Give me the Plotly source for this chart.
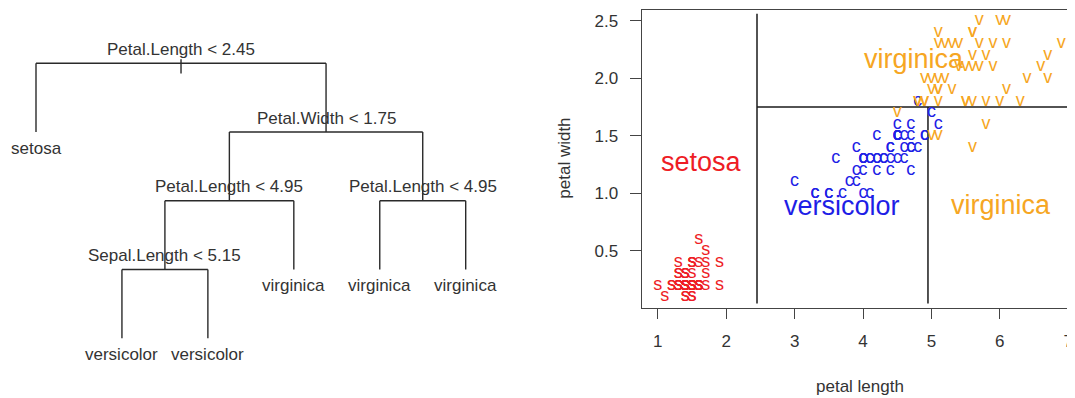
import plotly.graph_objects as go

# The page body adds an 8px margin, so the figure fills the rest of the window.
OFF = 8
W, H = 1075 - OFF, 398 - OFF


def fx(px):  # reference pixel x -> paper x
    return (px - OFF) / W


def fy(py):  # reference pixel y -> paper y
    return 1 - (py - OFF) / H


# ---------------- data: iris petal measurements ----------------
setosa_petal_length = [1.4, 1.4, 1.3, 1.5, 1.4, 1.7, 1.4, 1.5, 1.4, 1.5,
                       1.5, 1.6, 1.4, 1.1, 1.2, 1.5, 1.3, 1.4, 1.7, 1.5,
                       1.7, 1.5, 1.0, 1.7, 1.9, 1.6, 1.6, 1.5, 1.4, 1.6,
                       1.6, 1.5, 1.5, 1.4, 1.5, 1.2, 1.3, 1.4, 1.3, 1.5,
                       1.3, 1.3, 1.3, 1.6, 1.9, 1.4, 1.6, 1.4, 1.5, 1.4]
setosa_petal_width = [0.2, 0.2, 0.2, 0.2, 0.2, 0.4, 0.3, 0.2, 0.2, 0.1,
                      0.2, 0.2, 0.1, 0.1, 0.2, 0.4, 0.4, 0.3, 0.3, 0.3,
                      0.2, 0.4, 0.2, 0.5, 0.2, 0.2, 0.4, 0.2, 0.2, 0.2,
                      0.2, 0.4, 0.1, 0.2, 0.2, 0.2, 0.2, 0.1, 0.2, 0.2,
                      0.3, 0.3, 0.2, 0.6, 0.4, 0.3, 0.2, 0.2, 0.2, 0.2]
versicolor_petal_length = [4.7, 4.5, 4.9, 4.0, 4.6, 4.5, 4.7, 3.3, 4.6, 3.9,
                           3.5, 4.2, 4.0, 4.7, 3.6, 4.4, 4.5, 4.1, 4.5, 3.9,
                           4.8, 4.0, 4.9, 4.7, 4.3, 4.4, 4.8, 5.0, 4.5, 3.5,
                           3.8, 3.7, 3.9, 5.1, 4.5, 4.5, 4.7, 4.4, 4.1, 4.0,
                           4.4, 4.6, 4.0, 3.3, 4.2, 4.2, 4.2, 4.3, 3.0, 4.1]
versicolor_petal_width = [1.4, 1.5, 1.5, 1.3, 1.5, 1.3, 1.6, 1.0, 1.3, 1.4,
                          1.0, 1.5, 1.0, 1.4, 1.3, 1.4, 1.5, 1.0, 1.5, 1.1,
                          1.8, 1.3, 1.5, 1.2, 1.3, 1.4, 1.4, 1.7, 1.5, 1.0,
                          1.1, 1.0, 1.2, 1.6, 1.5, 1.6, 1.5, 1.3, 1.3, 1.3,
                          1.2, 1.4, 1.2, 1.0, 1.3, 1.2, 1.3, 1.3, 1.1, 1.3]
virginica_petal_length = [6.0, 5.1, 5.9, 5.6, 5.8, 6.6, 4.5, 6.3, 5.8, 6.1,
                          5.1, 5.3, 5.5, 5.0, 5.1, 5.3, 5.5, 6.7, 6.9, 5.0,
                          5.7, 4.9, 6.7, 4.9, 5.7, 6.0, 4.8, 4.9, 5.6, 5.8,
                          6.1, 6.4, 5.6, 5.1, 5.6, 6.1, 5.6, 5.5, 4.8, 5.4,
                          5.6, 5.1, 5.1, 5.9, 5.7, 5.2, 5.0, 5.2, 5.4, 5.1]
virginica_petal_width = [2.5, 1.9, 2.1, 1.8, 2.2, 2.1, 1.7, 1.8, 1.8, 2.5,
                         2.0, 1.9, 2.1, 2.0, 2.4, 2.3, 1.8, 2.2, 2.3, 1.5,
                         2.3, 2.0, 2.0, 1.8, 2.1, 1.8, 1.8, 1.8, 2.1, 1.6,
                         1.9, 2.0, 2.2, 1.5, 1.4, 2.3, 2.4, 1.8, 1.8, 2.1,
                         2.4, 2.3, 1.9, 2.3, 2.5, 2.3, 1.9, 2.0, 2.3, 1.8]

species_names = ["setosa", "versicolor", "virginica"]
species_symbols = ["s", "c", "v"]
species_colors = ["#EE1C25", "#1E1EE6", "#F6A623"]

# tree (R node numbering: children of n are 2n and 2n+1)
split_labels = {1: "Petal.Length < 2.45", 3: "Petal.Width < 1.75",
                6: "Petal.Length < 4.95", 7: "Petal.Length < 4.95",
                12: "Sepal.Length < 5.15"}
leaf_labels = {2: "setosa", 24: "versicolor", 25: "versicolor",
               13: "virginica", 14: "virginica", 15: "virginica"}
split_var_petal_length = [2.45, 4.95]
split_var_petal_width = [1.75]

# region label positions (data coords) on the partition plot
region_labels = ["setosa", "versicolor", "virginica", "virginica"]
region_x = [1.64, 3.70, 6.02, 4.74]
region_y = [1.27, 0.885, 0.895, 2.17]
region_colors = [species_colors[0], species_colors[1], species_colors[2], species_colors[2]]

x_ticks = [1, 2, 3, 4, 5, 6, 7]
y_ticks = [0.5, 1.0, 1.5, 2.0, 2.5]

FONT = "Liberation Sans, Arial, Helvetica, sans-serif"
TREE_LINE = "#2a2a2a"
TREE_TEXT = "#333333"
AX_COLOR = "#444444"

fig = go.Figure()

# ---------------- tree layout ----------------
xpos, depth = {}, {}
counter = [0]


def layout(n, d):
    depth[n] = d
    if n in leaf_labels:
        counter[0] += 1
        xpos[n] = counter[0]
    else:
        layout(2 * n, d + 1)
        layout(2 * n + 1, d + 1)
        xpos[n] = (xpos[2 * n] + xpos[2 * n + 1]) / 2


layout(1, 0)

lx, ly = [], []
for n in sorted(split_labels):
    l, r = 2 * n, 2 * n + 1
    lx += [xpos[l], xpos[r], None]
    ly += [depth[n], depth[n], None]
    for c in (l, r):
        lx += [xpos[c], xpos[c], None]
        ly += [depth[n], depth[c], None]
# root stub
lx += [xpos[1], xpos[1], None]
ly += [depth[1] - 0.06, depth[1] + 0.15, None]

fig.add_trace(go.Scatter(x=lx, y=ly, mode="lines", xaxis="x", yaxis="y",
                         line=dict(color=TREE_LINE, width=1.4),
                         hoverinfo="skip", showlegend=False))

annotations = []
for n, txt in split_labels.items():
    annotations.append(dict(x=xpos[n], y=depth[n], xref="x", yref="y", text=txt,
                            showarrow=False, yshift=14, xanchor="center", yanchor="middle",
                            font=dict(family=FONT, size=17, color=TREE_TEXT)))
for n, txt in leaf_labels.items():
    annotations.append(dict(x=xpos[n], y=depth[n], xref="x", yref="y", text=txt,
                            showarrow=False, yshift=-16, xanchor="center", yanchor="middle",
                            font=dict(family=FONT, size=17, color=TREE_TEXT)))

# tree axis ranges from reference pixel anchors
n_leaves = counter[0]
leaf_px0, leaf_px1 = 36.0, 465.7          # first / last leaf x (ref px)
depth_px0, depth_step = 63.3, 68.75       # root y and per-level step (ref px)
tree_dom = [0, 0.5]
ppu = (leaf_px1 - leaf_px0) / (n_leaves - 1)
tx0 = 1 - (leaf_px0 - OFF) / ppu
tx1 = tx0 + (tree_dom[1] - tree_dom[0]) * W / ppu
ty_top = -(depth_px0 - OFF) / depth_step
ty_bot = ty_top + H / depth_step

# ---------------- partition plot ----------------
pl_all = setosa_petal_length + versicolor_petal_length + virginica_petal_length
pw_all = setosa_petal_width + versicolor_petal_width + virginica_petal_width
rx = (min(pl_all), max(pl_all))
ry = (min(pw_all), max(pw_all))
x_hi = rx[1] + 0.025 * (rx[1] - rx[0])
y_lo = ry[0] - 0.025 * (ry[1] - ry[0])
y_hi = ry[1] + 0.025 * (ry[1] - ry[0])

s1, s3 = split_var_petal_length
w1 = split_var_petal_width[0]
px_ = [s1, s1, None, s1, x_hi, None, s3, s3, None]
py_ = [y_lo, y_hi, None, w1, w1, None, y_lo, w1, None]
fig.add_trace(go.Scatter(x=px_, y=py_, mode="lines", xaxis="x2", yaxis="y2",
                         line=dict(color="#1a1a1a", width=1.5),
                         hoverinfo="skip", showlegend=False))

groups = [(setosa_petal_length, setosa_petal_width),
          (versicolor_petal_length, versicolor_petal_width),
          (virginica_petal_length, virginica_petal_width)]
for (xs, ys), name, sym, col in zip(groups, species_names, species_symbols, species_colors):
    fig.add_trace(go.Scatter(x=xs, y=ys, mode="text", text=[sym] * len(xs),
                             textposition="middle center", xaxis="x2", yaxis="y2",
                             textfont=dict(family=FONT, size=18, color=col),
                             name=name, showlegend=False, hoverinfo="skip"))

for txt, x, y, c in zip(region_labels, region_x, region_y, region_colors):
    annotations.append(dict(x=x, y=y, xref="x2", yref="y2", text=txt, showarrow=False,
                            xanchor="center", yanchor="middle",
                            font=dict(family=FONT, size=27, color=c)))

# axis titles
annotations.append(dict(x=fx(860), y=fy(386.7), xref="paper", yref="paper",
                        text="petal length", showarrow=False, xanchor="center", yanchor="middle",
                        font=dict(family=FONT, size=17, color=TREE_TEXT)))
annotations.append(dict(x=fx(565), y=fy(158.7), xref="paper", yref="paper",
                        text="petal width", showarrow=False, textangle=-90,
                        xanchor="center", yanchor="middle",
                        font=dict(family=FONT, size=17, color=TREE_TEXT)))

fig.update_layout(
    width=W, height=H,
    margin=dict(l=0, r=0, t=0, b=0),
    paper_bgcolor="white", plot_bgcolor="white",
    showlegend=False,
    annotations=annotations,
    xaxis=dict(domain=tree_dom, range=[tx0, tx1], visible=False, fixedrange=True),
    yaxis=dict(domain=[0, 1], range=[ty_bot, ty_top], visible=False, fixedrange=True),
    xaxis2=dict(domain=[fx(641.7), 1.0], range=[0.764, 7.10], anchor="y2",
                tickmode="array", tickvals=x_ticks, ticktext=[str(t) for t in x_ticks],
                ticks="outside", ticklen=10, tickwidth=1.3, tickcolor=AX_COLOR,
                showline=True, linecolor=AX_COLOR, linewidth=1.3, mirror=True,
                showgrid=False, zeroline=False, ticklabelstandoff=8,
                tickfont=dict(family=FONT, size=17, color=TREE_TEXT)),
    yaxis2=dict(domain=[fy(307.7), fy(9.7)], range=[0.004, 2.596], anchor="x2",
                tickmode="array", tickvals=y_ticks, ticktext=["%.1f" % t for t in y_ticks],
                ticks="outside", ticklen=11, tickwidth=1.3, tickcolor=AX_COLOR,
                showline=True, linecolor=AX_COLOR, linewidth=1.3, mirror=False,
                showgrid=False, zeroline=False, ticklabelstandoff=8,
                tickfont=dict(family=FONT, size=17, color=TREE_TEXT)),
)

fig.write_html("out.html")
